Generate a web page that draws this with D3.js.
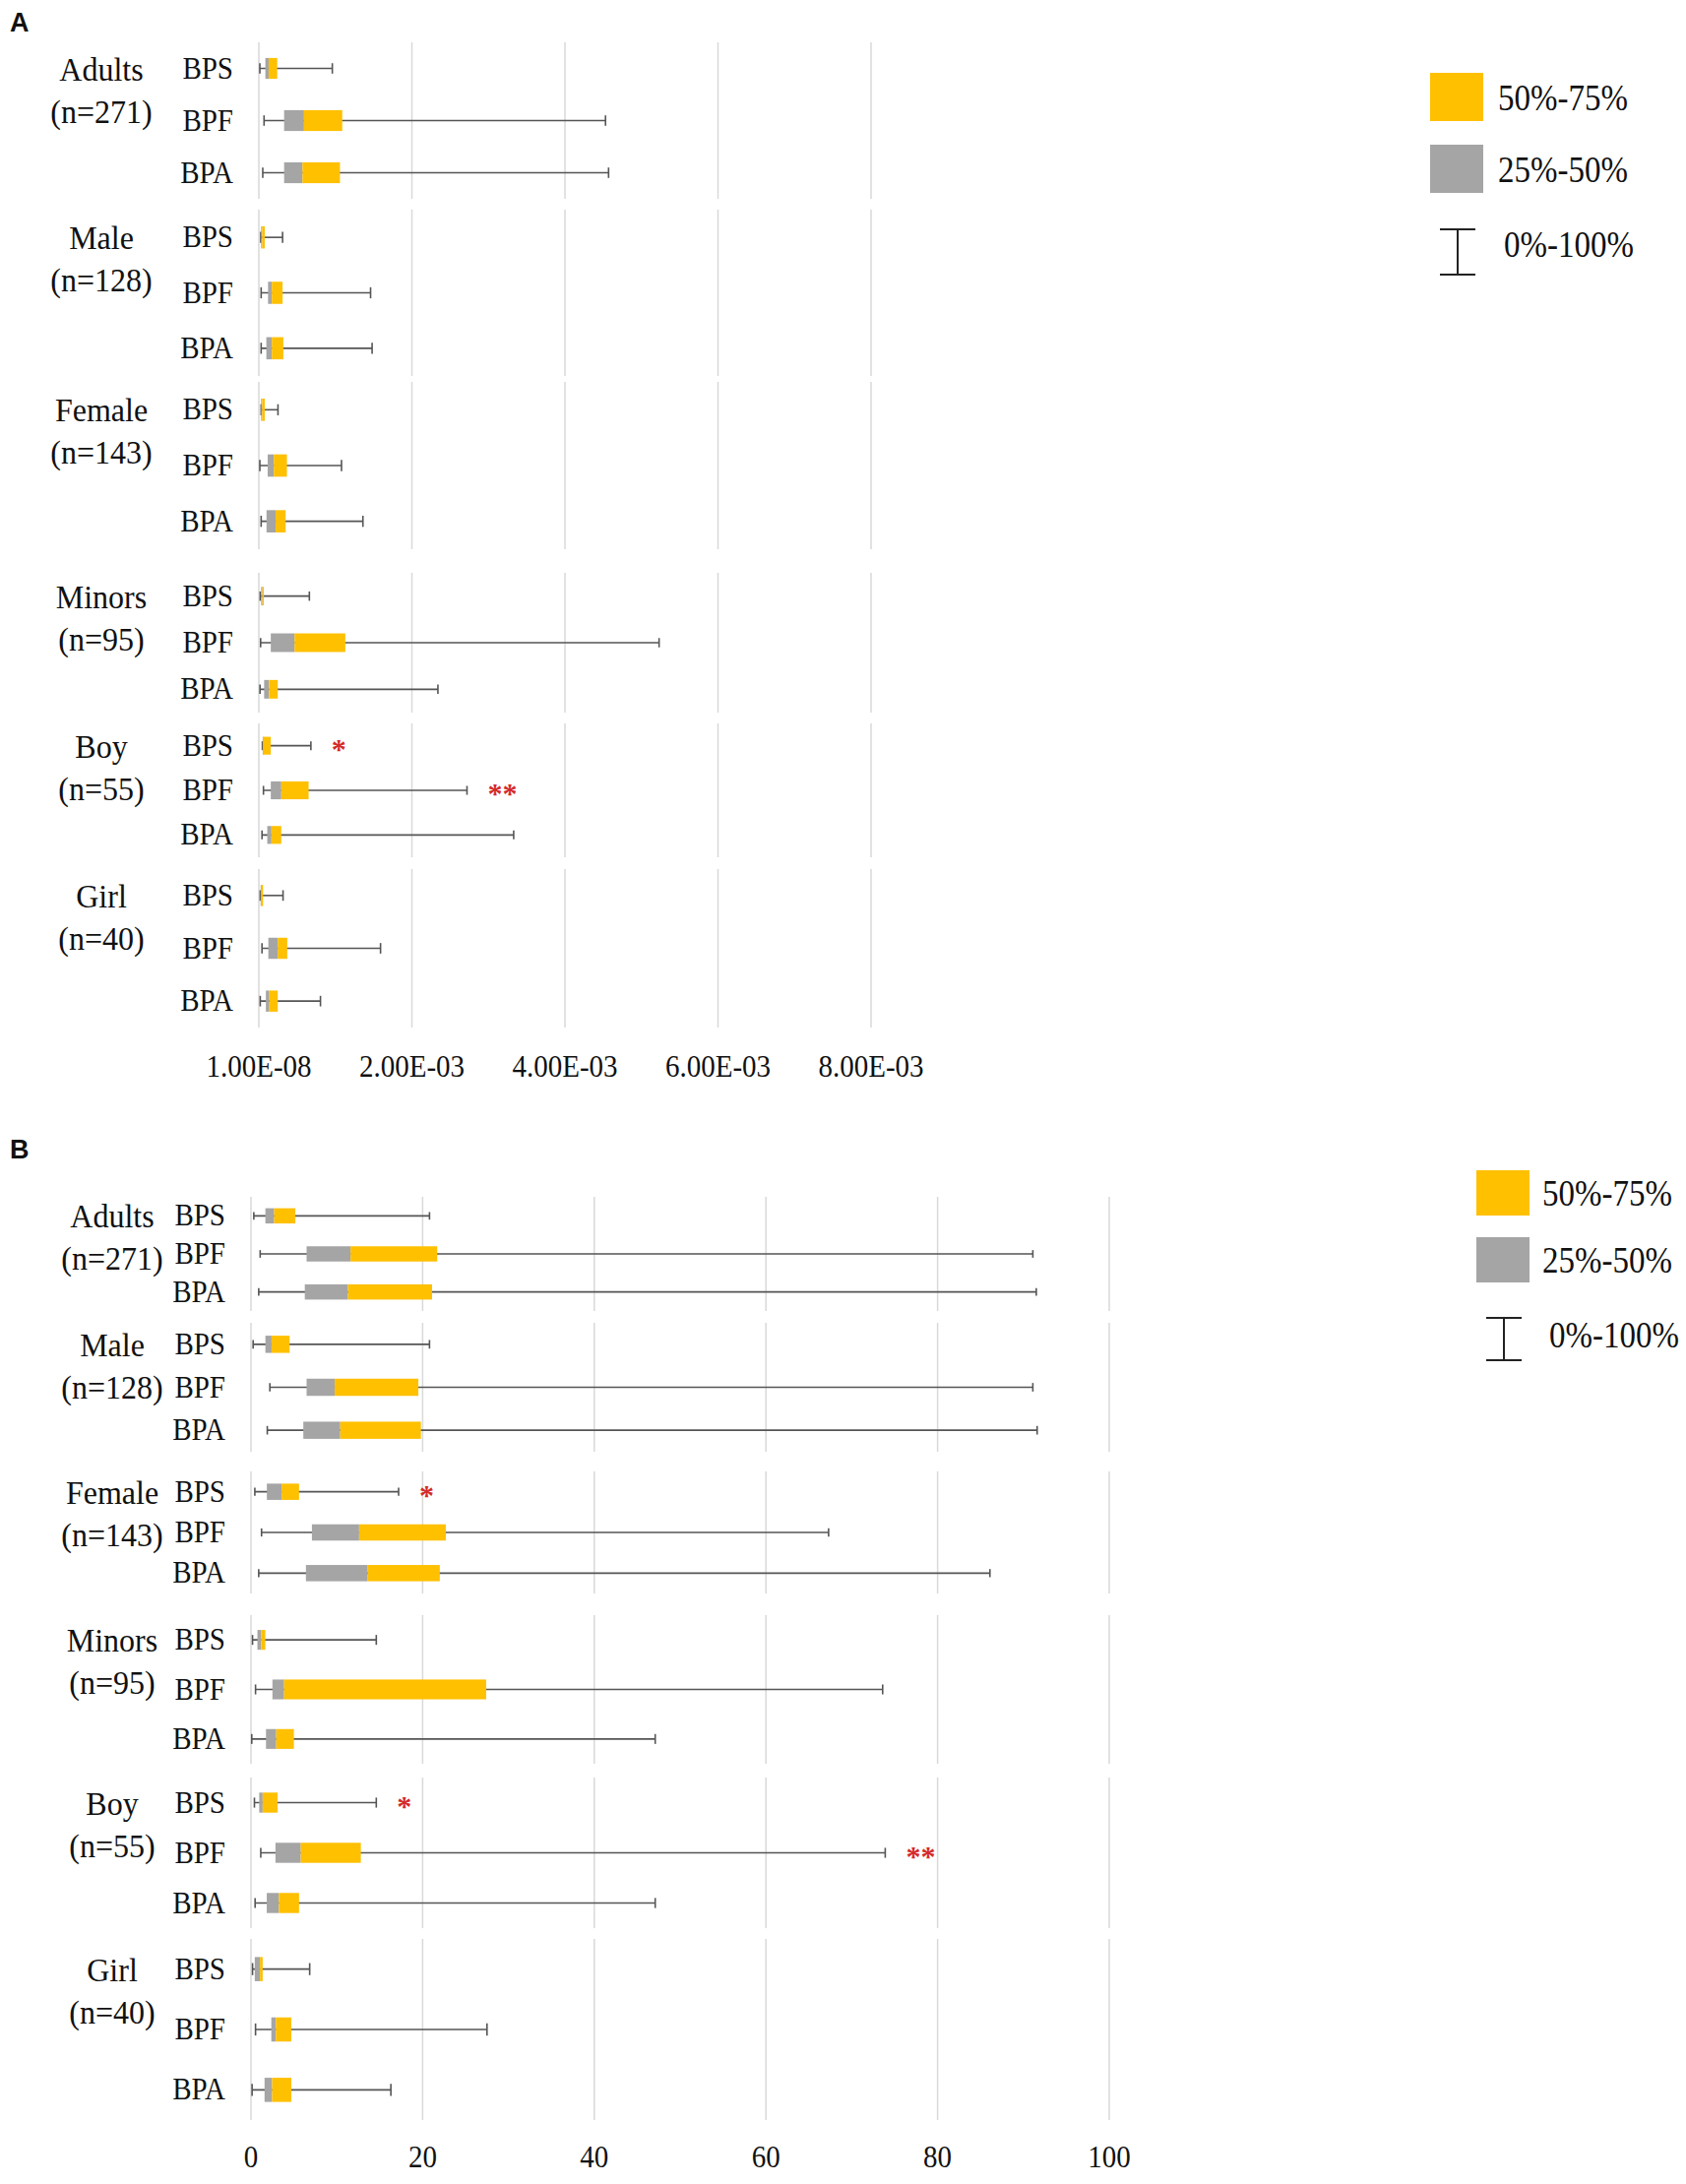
<!DOCTYPE html>
<html lang="en">
<head>
  <meta charset="UTF-8">
  <title>Bisphenol percentiles</title>
  <script src="https://d3js.org/d3.v7.min.js"></script>
  <style>
      body { margin: 0; background: #fff; }
      text { font-family: "Liberation Serif", "Times New Roman", serif; fill: #111; }
      .tag { font-family: "Liberation Sans", Arial, sans-serif; font-weight: bold; }
      .grid { stroke: #d9d9d9; stroke-width: 1.5px; }
      .whisker { stroke: #555; stroke-width: 1.6px; fill: none; }
      .star { fill: #d42a2a; font-weight: bold; }
  </style>
</head>
<body>
<svg width="1713" height="2219"></svg>
<script>

  const groups = ["Adults", "Male", "Female", "Minors", "Boy", "Girl"];
  const groupN = [271, 128, 143, 95, 55, 40];
  const compounds = ["BPS", "BPF", "BPA"];

  // panel A, per group: [BPS, BPF, BPA]
  const minA = [[1.3e-5, 6.8e-5, 5.1e-5], [2.5e-5, 3.0e-5, 3.0e-5], [3.0e-5, 1.3e-5, 3.0e-5],
                [1.8e-5, 2.3e-5, 1.5e-5], [4.6e-5, 6.0e-5, 4.1e-5], [1.8e-5, 4.1e-5, 1.8e-5]];
  const q1A = [[8.5e-5, 3.3e-4, 3.3e-4], [3.0e-5, 1.2e-4, 9.8e-5], [3.0e-5, 1.15e-4, 1.0e-4],
               [3.0e-5, 1.56e-4, 6.9e-5], [5.0e-5, 1.56e-4, 1.1e-4], [2.3e-5, 1.24e-4, 9.2e-5]];
  const medA = [[1.28e-4, 5.9e-4, 5.7e-4], [4.3e-5, 1.7e-4, 1.7e-4], [4.3e-5, 1.96e-4, 2.2e-4],
                [4.6e-5, 4.67e-4, 1.33e-4], [5.5e-5, 2.93e-4, 1.65e-4], [3.2e-5, 2.47e-4, 1.37e-4]];
  const q3A = [[2.4e-4, 1.09e-3, 1.06e-3], [7.7e-5, 3.1e-4, 3.2e-4], [7.7e-5, 3.67e-4, 3.5e-4],
               [6.4e-5, 1.13e-3, 2.47e-4], [1.56e-4, 6.5e-4, 2.93e-4], [5.5e-5, 3.71e-4, 2.47e-4]];
  const maxA = [[9.6e-4, 4.53e-3, 4.57e-3], [3.1e-4, 1.46e-3, 1.48e-3], [2.5e-4, 1.08e-3, 1.36e-3],
                [6.6e-4, 5.23e-3, 2.34e-3], [6.8e-4, 2.72e-3, 3.33e-3], [3.16e-4, 1.59e-3, 8.05e-4]];
  const ticksA = [1e-8, 2e-3, 4e-3, 6e-3, 8e-3];
  const starsA = [["Boy", "BPS", "*"], ["Boy", "BPF", "**"]];

  // panel B, per group: [BPS, BPF, BPA]
  const minB = [[0.33, 1.07, 0.9], [0.25, 2.2, 1.9], [0.45, 1.23, 0.9],
                [0.18, 0.53, 0.09], [0.4, 1.14, 0.48], [0.18, 0.53, 0.13]];
  const q1B = [[1.68, 6.48, 6.27], [1.68, 6.48, 6.1], [1.85, 7.1, 6.4],
               [0.75, 2.5, 1.75], [0.96, 2.85, 1.84], [0.44, 2.37, 1.58]];
  const medB = [[2.7, 11.6, 11.3], [2.4, 9.76, 10.4], [3.57, 12.6, 13.6],
                [1.18, 3.86, 2.94], [1.36, 5.8, 3.25], [1.05, 2.9, 2.46]];
  const q3B = [[5.17, 21.7, 21.1], [4.5, 19.5, 19.8], [5.6, 22.7, 22.0],
               [1.67, 27.4, 5.0], [3.1, 12.8, 5.6], [1.36, 4.7, 4.7]];
  const maxB = [[20.8, 91.1, 91.5], [20.8, 91.1, 91.6], [17.2, 67.3, 86.1],
                [14.6, 73.6, 47.1], [14.6, 73.9, 47.1], [6.84, 27.5, 16.3]];
  const ticksB = [0, 20, 40, 60, 80, 100];
  const starsB = [["Female", "BPS", "*"], ["Boy", "BPS", "*"], ["Boy", "BPF", "**"]];

  const legendLabels = ["50%-75%", "25%-50%", "0%-100%"];
  const colors = {grey: "#a5a5a5", yellow: "#ffc000"};

  const svg = d3.select("svg");

  function fmtA(v) {
    const [m, e] = v.toExponential(2).toUpperCase().split("E");
    const sign = e[0] === "-" ? "-" : "+";
    const digits = e.replace(/^[+-]/, "").padStart(2, "0");
    return m + "E" + sign + digits;
  }

  // the source figure's serif text is a little taller than it is wide
  function label(parent, x, y, size, sy, txt) {
    return parent.append("text")
      .attr("transform", `translate(${x},${y}) scale(1,${sy})`)
      .style("font-size", size + "px")
      .text(txt);
  }

  const panels = [
    {
      tag: "A", tagY: 32,
      x: d3.scaleLinear().domain([1e-8, 8e-3]).range([263, 885]),
      ticks: ticksA, format: fmtA, tickY: 1094,
      spans: [[43, 202], [213, 382], [388, 558], [582, 724], [735, 871], [883, 1044]],
      labelX: 103, seriesX: 237,
      min: minA, q1: q1A, med: medA, q3: q3A, max: maxA, stars: starsA,
      legend: {x: 1453, w: 54, h: 49, tops: [74, 147], textX: 1522,
               barX: 1481, barTop: 233, barBottom: 279, barTextX: 1528, barTextY: 248}
    },
    {
      tag: "B", tagY: 1177,
      x: d3.scaleLinear().domain([0, 100]).range([255, 1127]),
      ticks: ticksB, format: d3.format("d"), tickY: 2202,
      spans: [[1216, 1332], [1344, 1475], [1495, 1619], [1641, 1792], [1806, 1959], [1970, 2154]],
      labelX: 114, seriesX: 229,
      min: minB, q1: q1B, med: medB, q3: q3B, max: maxB, stars: starsB,
      legend: {x: 1500, w: 54, h: 46, tops: [1189, 1257], textX: 1567,
               barX: 1528, barTop: 1339, barBottom: 1382, barTextX: 1574, barTextY: 1356}
    }
  ];

  panels.forEach(p => {
    const g = svg.append("g");
    const x = p.x;

    g.append("text").attr("class", "tag")
      .attr("x", 10).attr("y", p.tagY)
      .style("font-size", "27px")
      .text(p.tag);

    groups.forEach((name, gi) => {
      const y = d3.scaleBand().domain(compounds).range(p.spans[gi]).padding(0);
      const bw = y.bandwidth();
      const cy = c => y(c) + bw / 2;
      const boxH = bw * 0.4;
      const capH = bw * 0.2;

      const rows = compounds.map((c, ci) => ({
        c,
        min: p.min[gi][ci], q1: p.q1[gi][ci], med: p.med[gi][ci],
        q3: p.q3[gi][ci], max: p.max[gi][ci]
      }));

      g.append("g").selectAll("line")
        .data(p.ticks)
        .enter().append("line")
        .attr("class", "grid")
        .attr("x1", d => x(d)).attr("x2", d => x(d))
        .attr("y1", p.spans[gi][0]).attr("y2", p.spans[gi][1]);

      const row = g.append("g").selectAll("g")
        .data(rows)
        .enter().append("g");

      row.append("line").attr("class", "whisker")
        .attr("x1", d => x(d.min)).attr("x2", d => x(d.max))
        .attr("y1", d => cy(d.c)).attr("y2", d => cy(d.c));
      row.append("line").attr("class", "whisker")
        .attr("x1", d => x(d.min)).attr("x2", d => x(d.min))
        .attr("y1", d => cy(d.c) - capH / 2).attr("y2", d => cy(d.c) + capH / 2);
      row.append("line").attr("class", "whisker")
        .attr("x1", d => x(d.max)).attr("x2", d => x(d.max))
        .attr("y1", d => cy(d.c) - capH / 2).attr("y2", d => cy(d.c) + capH / 2);

      row.append("rect")
        .attr("x", d => x(d.q1)).attr("width", d => Math.max(1, x(d.med) - x(d.q1)))
        .attr("y", d => cy(d.c) - boxH / 2).attr("height", boxH)
        .attr("fill", colors.grey);
      row.append("rect")
        .attr("x", d => x(d.med)).attr("width", d => Math.max(1.5, x(d.q3) - x(d.med)))
        .attr("y", d => cy(d.c) - boxH / 2).attr("height", boxH)
        .attr("fill", colors.yellow);

      rows.forEach(d => {
        label(g, p.seriesX, cy(d.c) + 10, 29, 1.09, d.c)
          .attr("text-anchor", "end");
      });

      const nameY = cy(compounds[0]) + 12;
      label(g, p.labelX, nameY, 32, 1.06, name).attr("text-anchor", "middle");
      label(g, p.labelX, nameY + 43, 32, 1.06, "(n=" + groupN[gi] + ")").attr("text-anchor", "middle");

      p.stars.filter(s => s[0] === name).forEach(([, c, mark]) => {
        const ci = compounds.indexOf(c);
        g.append("text").attr("class", "star")
          .attr("x", x(p.max[gi][ci]) + 21).attr("y", cy(c) + 13)
          .style("font-size", "30px")
          .text(mark);
      });
    });

    // tick labels
    p.ticks.forEach(t => {
      label(g, x(t), p.tickY, 29, 1.1, p.format(t)).attr("text-anchor", "middle");
    });

    // legend
    const L = p.legend;
    [colors.yellow, colors.grey].forEach((col, i) => {
      g.append("rect")
        .attr("x", L.x).attr("y", L.tops[i])
        .attr("width", L.w).attr("height", L.h)
        .attr("fill", col);
      label(g, L.textX, L.tops[i] + L.h / 2 + 13, 33, 1.15, legendLabels[i]);
    });
    const eb = g.append("g").attr("stroke", "#222").attr("stroke-width", 2);
    eb.append("line").attr("x1", L.barX).attr("x2", L.barX).attr("y1", L.barTop).attr("y2", L.barBottom);
    eb.append("line").attr("x1", L.barX - 18).attr("x2", L.barX + 18).attr("y1", L.barTop).attr("y2", L.barTop);
    eb.append("line").attr("x1", L.barX - 18).attr("x2", L.barX + 18).attr("y1", L.barBottom).attr("y2", L.barBottom);
    label(g, L.barTextX, L.barTextY + 13, 33, 1.15, legendLabels[2]);
  });
</script>
</body>
</html>
